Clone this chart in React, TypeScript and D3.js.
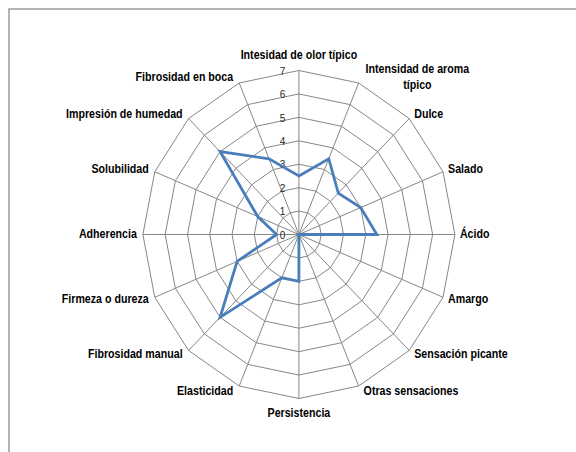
import React, { useEffect, useRef } from 'react';
import * as d3 from 'd3';

const categories = [
  'Intesidad de olor típico',
  'Intensidad de aroma|típico',
  'Dulce',
  'Salado',
  'Ácido',
  'Amargo',
  'Sensación  picante',
  'Otras sensaciones',
  'Persistencia',
  'Elasticidad',
  'Fibrosidad manual',
  'Firmeza o dureza',
  'Adherencia',
  'Solubilidad',
  'Impresión de humedad',
  'Fibrosidad en boca',
];

const values = [2.5, 3.5, 2.5, 3, 3.5, 0, 0, 0, 2, 2, 5, 3, 1, 2, 5, 3.5];

const ticks = [0, 1, 2, 3, 4, 5, 6, 7];

const App = () => {
  const chartRef = useRef<SVGSVGElement>(null);

  useEffect(() => {
    const svg = d3.select(chartRef.current);
    svg.selectAll('*').remove();

    const width = 576;
    const height = 452;
    const cx = 298.9;
    const cy = 234.5;
    const narrow = 0.82; // fake Arial Narrow
    const font = '"Liberation Sans", Arial, sans-serif';
    // the picture is slightly stretched vertically
    const rx = d3.scaleLinear().domain([0, 7]).range([0, 156]);
    const ry = d3.scaleLinear().domain([0, 7]).range([0, 164]);
    const n = categories.length;
    const angle = d3.scaleLinear().domain([0, n]).range([0, 2 * Math.PI]);

    const px = (i: number, v: number) => cx + Math.sin(angle(i)) * rx(v);
    const py = (i: number, v: number) => cy - Math.cos(angle(i)) * ry(v);

    svg.attr('width', width).attr('height', height);

    svg.append('rect')
      .attr('width', width).attr('height', height)
      .style('fill', '#fff');

    // outer frame
    svg.append('rect')
      .attr('x', 9).attr('y', 9)
      .attr('width', 620).attr('height', 520)
      .style('fill', 'none')
      .style('stroke', '#8c8c8c')
      .style('stroke-width', 1.3);

    const grid = svg.append('g');
    const idx = d3.range(n);

    // rings
    grid.selectAll('.ring')
      .data(ticks.slice(1))
      .enter()
      .append('polygon')
      .attr('points', t => idx.map(i => `${px(i, t)},${py(i, t)}`).join(' '))
      .style('fill', 'none')
      .style('stroke', '#878787')
      .style('stroke-width', 1);

    // spokes
    grid.selectAll('.spoke')
      .data(idx)
      .enter()
      .append('line')
      .attr('x1', cx).attr('y1', cy)
      .attr('x2', i => px(i, 7)).attr('y2', i => py(i, 7))
      .style('stroke', '#878787')
      .style('stroke-width', 1);

    // tick labels
    svg.selectAll('.tick')
      .data(ticks)
      .enter()
      .append('g')
      .attr('transform', t => `translate(${cx - 13.5},${py(0, t) + 1.5}) scale(1,1.05)`)
      .append('text')
      .attr('text-anchor', 'end')
      .attr('dominant-baseline', 'middle')
      .style('font-family', font)
      .style('font-size', '10px')
      .style('fill', '#262626')
      .text(t => t);

    // series
    const line = d3.line<number>()
      .x((v, i) => px(i, v))
      .y((v, i) => py(i, v))
      .curve(d3.curveLinearClosed);

    svg.append('path')
      .attr('d', line(values))
      .style('fill', 'none')
      .style('stroke', '#4A7EBB')
      .style('stroke-width', 2.8)
      .style('stroke-linejoin', 'miter');

    // category labels
    categories.forEach((name, i) => {
      const s = Math.sin(angle(i));
      const c = Math.cos(angle(i));
      const ex = px(i, 7);
      const ey = py(i, 7);
      const lines = name.split('|');
      let x = ex;
      let y = ey;
      let anchor = 'middle';
      if (Math.abs(s) < 0.01) {
        y = ey + (c > 0 ? -15 : 15);
      } else {
        x = ex + (s > 0 ? 5 : -6);
        y = ey - c * 6;
        anchor = s > 0 ? 'start' : 'end';
      }
      const lh = 16;
      const g = svg.append('g')
        .attr('transform', `translate(${x},${y}) scale(${narrow},1)`);
      const t = g.append('text')
        .attr('text-anchor', anchor)
        .attr('dominant-baseline', 'middle')
        .style('font-family', font)
        .style('font-size', '13px')
        .style('font-weight', 'bold')
        .style('fill', '#000');
      if (lines.length === 1) {
        t.text(name);
      } else {
        // multi-line: centred block, left edge at anchor
        t.attr('text-anchor', 'middle');
        const first = t.append('tspan').attr('x', 0).attr('y', -lh / 2).text(lines[0]);
        const w = (first.node() as SVGTextContentElement).getComputedTextLength();
        const mid = 2 / narrow + w / 2;
        first.attr('x', mid);
        lines.slice(1).forEach((l, k) => {
          t.append('tspan').attr('x', mid).attr('y', -lh / 2 + lh * (k + 1)).text(l);
        });
      }
    });
  }, []);

  return (
    <div style={{ position: 'absolute', left: 0, top: 0 }}>
      <svg ref={chartRef}></svg>
    </div>
  );
};

export default App;
